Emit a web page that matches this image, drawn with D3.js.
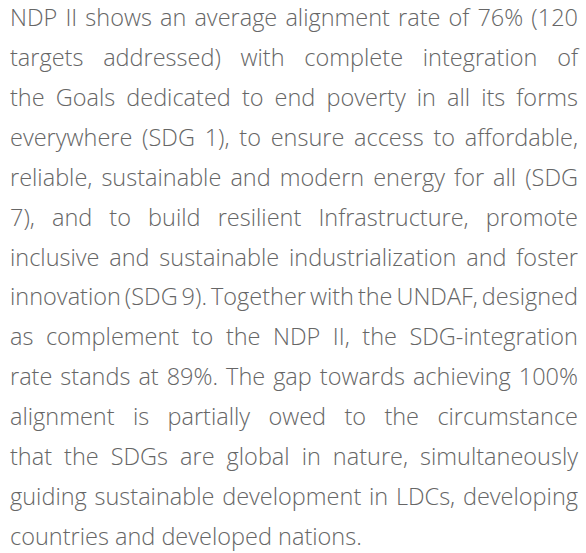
<!DOCTYPE html>
<html>
<head>
<meta charset="utf-8">
<script src="https://cdn.jsdelivr.net/npm/d3@7"></script>
<style>
  html, body { margin: 0; padding: 0; background: #fff; }
</style>
</head>
<body>
<div id="chart"></div>
<script>
// paragraph, one entry per line as broken in the reference
var lines = [
  "NDP II shows an average alignment rate of 76% (120",
  "targets addressed) with complete integration of",
  "the Goals dedicated to end poverty in all its forms",
  "everywhere (SDG 1), to ensure access to affordable,",
  "reliable, sustainable and modern energy for all (SDG",
  "7), and to build resilient Infrastructure, promote",
  "inclusive and sustainable industrialization and foster",
  "innovation (SDG 9). Together with the UNDAF, designed",
  "as complement to the NDP II, the SDG-integration",
  "rate stands at 89%. The gap towards achieving 100%",
  "alignment is partially owed to the circumstance",
  "that the SDGs are global in nature, simultaneously",
  "guiding sustainable development in LDCs, developing",
  "countries and developed nations."
];

var width = 586, height = 553;
var left = 10, right = 578;
var lastLineWidth = 352; // width of the unjustified last line in the reference

var svg = d3.select("#chart").append("svg")
    .attr("width", width)
    .attr("height", height);

// line index -> baseline
var y = d3.scaleLinear()
    .domain([0, lines.length - 1])
    .range([26, 545]);

var fontFamily = "'Open Sans', sans-serif";

// size the font so the last line has the reference's width
var probe = svg.append("text")
    .attr("font-family", fontFamily)
    .attr("font-size", "20px")
    .attr("font-weight", 300)
    .text(lines[lines.length - 1]);
var fontSize = 20 * lastLineWidth / probe.node().getComputedTextLength();
probe.remove();

function addText(g, txt, yy) {
  return g.append("text")
    .attr("y", yy)
    .attr("font-family", fontFamily)
    .attr("font-size", fontSize + "px")
    .attr("font-weight", 300)
    .attr("fill", "#666")
    .text(txt);
}

lines.forEach(function(line, i) {
  var g = svg.append("g");

  if (i == lines.length - 1) {
    addText(g, line, y(i)).attr("x", left);
    return;
  }

  // measure words, then spread them to full width (justify)
  var words = line.split(" ");
  var nodes = words.map(function(w) { return addText(g, w, y(i)); });
  var lens = nodes.map(function(n) { return n.node().getComputedTextLength(); });
  var gap = (right - left - d3.sum(lens)) / (words.length - 1);
  var x = left;
  nodes.forEach(function(n, k) {
    n.attr("x", x);
    x += lens[k] + gap;
  });
});
</script>
</body>
</html>
